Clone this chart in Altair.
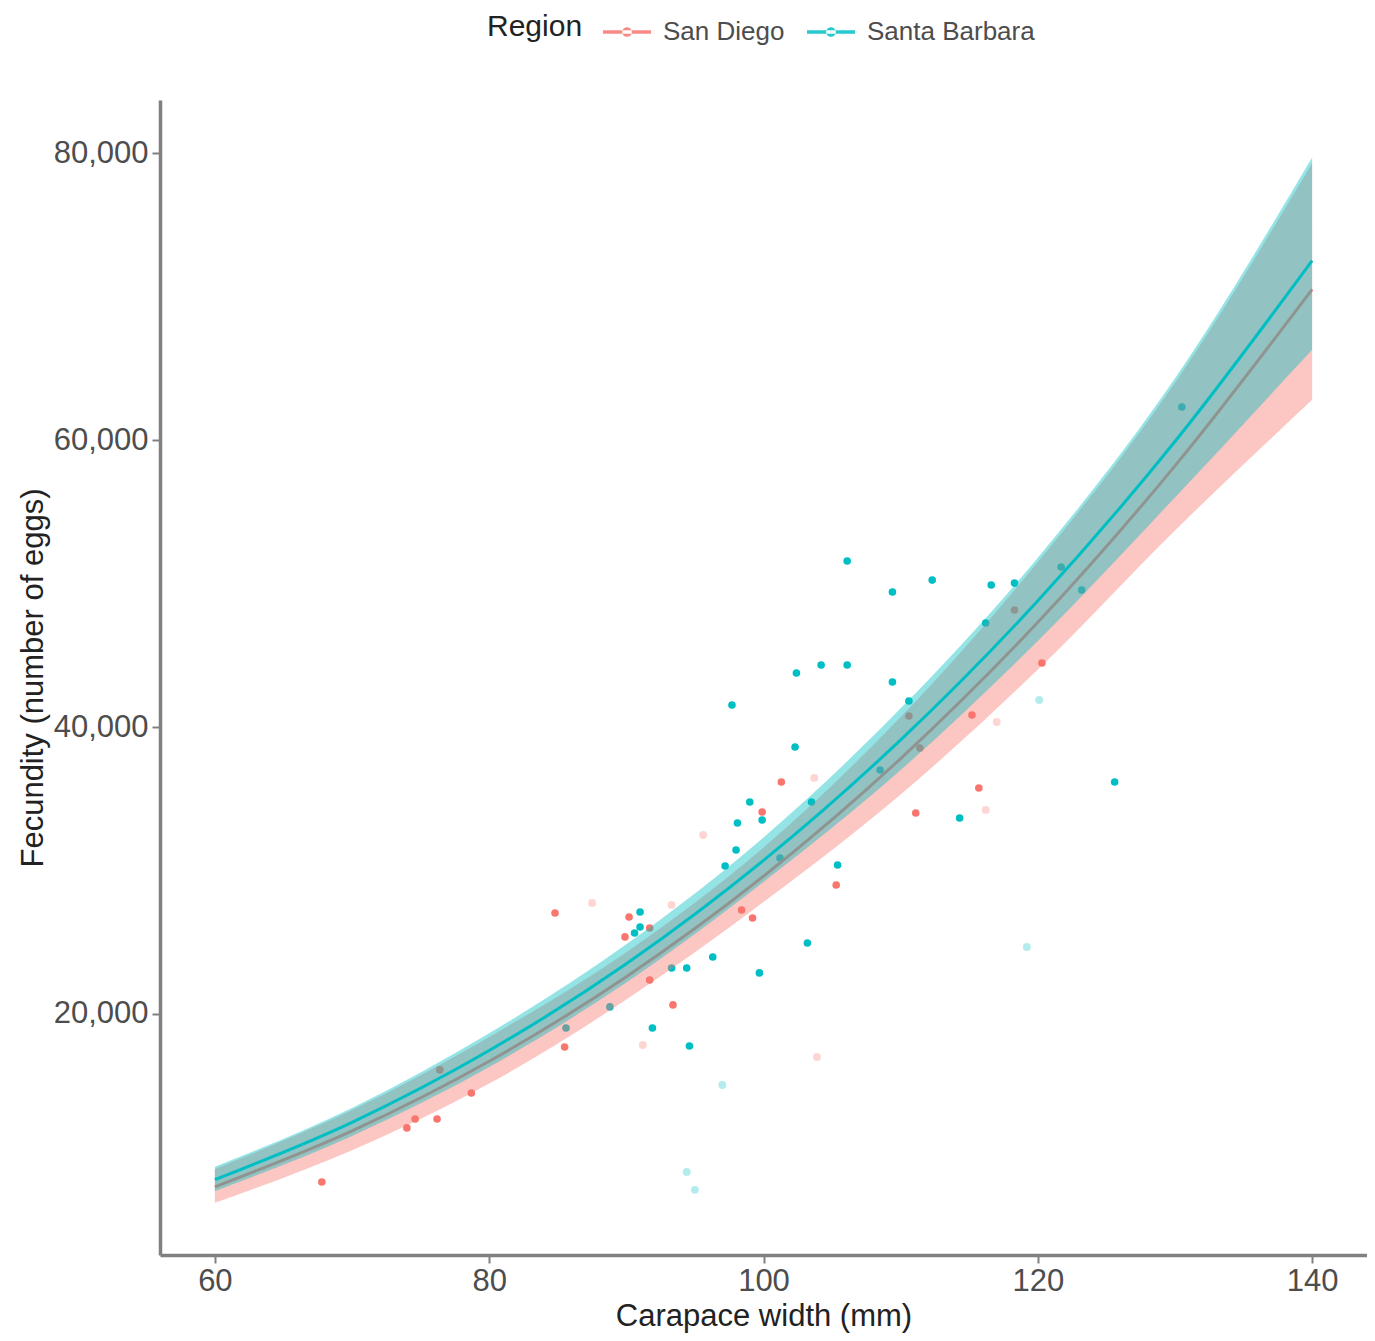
import altair as alt
import pandas as pd

regions = ["San Diego", "Santa Barbara"]
colors = ["#F8766D", "#00BFC4"]

# Fitted curves (carapace width in mm, fecundity)
cw_grid = [60, 70, 80, 90, 100, 110, 120, 130, 140]
sb_fit = [8450, 12450, 17450, 23500, 30700, 39100, 48800, 59900, 72500]
sb_lo = [7650, 11500, 16300, 22200, 29200, 37000, 46000, 56000, 66300]
sb_hi = [9350, 13450, 18650, 24850, 32300, 41300, 51800, 64300, 79700]
sd_fit = [7950, 11850, 16700, 22600, 29600, 37800, 47300, 58200, 70500]
sd_lo = [6850, 10500, 15150, 21000, 27800, 35300, 44000, 53700, 62800]
sd_hi = [9200, 13300, 18400, 24300, 31600, 40700, 51500, 64000, 79300]

# Observations: San Diego
sd_cw = [67.8, 74.0, 74.6, 76.2, 78.7, 85.5, 84.8, 90.2, 89.9, 91.7, 93.4, 99.2,
         99.9, 101.3, 105.3, 111.1, 115.7, 118.3, 120.3, 110.6, 115.2, 111.4,
         76.4, 98.4, 91.7]
sd_f = [8290, 12060, 12680, 12680, 14490, 17700, 27040, 26760, 25370, 25990, 20630, 26690,
        34080, 36170, 28990, 34010, 35750, 48150, 44460, 40770, 40840, 38540,
        16100, 27250, 22370]
sd_faint_cw = [87.5, 93.3, 95.6, 91.2, 103.7, 103.9, 116.2, 117.0]
sd_faint_f = [27740, 27600, 32470, 17840, 36450, 17000, 34220, 40350]

# Observations: Santa Barbara
sb_cw = [85.6, 88.8, 91.9, 94.6, 93.3, 94.4, 96.3, 99.7, 103.2, 91.0, 91.0, 90.6,
         98.1, 98.0, 97.2, 99.0, 99.9, 103.5, 105.4, 101.2, 102.3, 97.7, 102.4,
         104.2, 106.1, 106.1, 109.4, 109.4, 110.6, 108.5, 112.3, 116.6, 118.3,
         116.2, 121.7, 123.2, 114.3, 125.6, 130.5]
sb_f = [19020, 20490, 19020, 17770, 23200, 23200, 23970, 22860, 24950, 27110, 26060, 25640,
        33310, 31430, 30310, 34770, 33520, 34770, 30380, 30870, 38610, 41530, 43760,
        44320, 44320, 51570, 49410, 43140, 41810, 37000, 50240, 49900, 50030,
        47250, 51150, 49550, 33660, 36170, 62300]
sb_faint_cw = [97.0, 94.4, 95.0, 119.2, 120.1]
sb_faint_f = [15050, 8990, 7740, 24670, 41880]

x_ticks = [60, 80, 100, 120, 140]
y_ticks = [20000, 40000, 60000, 80000]

pts = pd.DataFrame({
    "cw": sd_cw + sb_cw,
    "f": sd_f + sb_f,
    "Region": [regions[0]] * len(sd_cw) + [regions[1]] * len(sb_cw),
})
faint = pd.DataFrame({
    "cw": sd_faint_cw + sb_faint_cw,
    "f": sd_faint_f + sb_faint_f,
    "Region": [regions[0]] * len(sd_faint_cw) + [regions[1]] * len(sb_faint_cw),
})
sd_curve = pd.DataFrame({"cw": cw_grid, "fit": sd_fit, "lo": sd_lo, "hi": sd_hi,
                         "Region": regions[0]})
sb_curve = pd.DataFrame({"cw": cw_grid, "fit": sb_fit, "lo": sb_lo, "hi": sb_hi,
                         "Region": regions[1]})

xs = alt.Scale(domain=[56, 144], nice=False, zero=False)
ys = alt.Scale(domain=[3200, 83700], nice=False, zero=False)
cs = alt.Scale(domain=regions, range=colors)

x_axis = alt.Axis(values=x_ticks, format="d", title="Carapace width (mm)")
y_axis = alt.Axis(values=y_ticks, format=",", labelExpr="format(datum.value, ',')",
                  title="Fecundity (number of eggs)")


def X():
    return alt.X("cw:Q", scale=xs, axis=x_axis)


def Y(field):
    return alt.Y(field, scale=ys, axis=y_axis)


legend = alt.Legend(
    title="Region", orient="none", legendX=327, legendY=-92, direction="horizontal",
    titleOrient="left",
    symbolType="M-1,-0.07 L1,-0.07 L1,0.07 L-1,0.07 Z M-0.2,0 A0.2,0.2 0 1,0 0.2,0 A0.2,0.2 0 1,0 -0.2,0 Z",
    symbolSize=2304, symbolStrokeWidth=0, symbolOpacity=0.85,
    labelFontSize=26, titleFontSize=30, labelColor="#4D4D4D", titleColor="#222222",
    labelFont="Liberation Sans", titleFont="Liberation Sans", titleFontWeight="normal",
    columnPadding=22, labelOffset=12, titlePadding=20, labelLimit=0,
)

points = alt.Chart(pts).mark_circle(size=58, opacity=1).encode(
    x=X(), y=Y("f:Q"),
    color=alt.Color("Region:N", scale=cs, legend=legend),
)
faint_pts = alt.Chart(faint).mark_circle(size=62, opacity=0.3).encode(
    x=X(), y=Y("f:Q"),
    color=alt.Color("Region:N", scale=cs, legend=None),
)


def ribbon(df):
    return alt.Chart(df).mark_area(opacity=0.42, interpolate="monotone").encode(
        x=X(), y=Y("lo:Q"), y2="hi:Q",
        color=alt.Color("Region:N", scale=cs, legend=None),
    )


def fitline(df):
    return alt.Chart(df).mark_line(strokeWidth=3, interpolate="monotone").encode(
        x=X(), y=Y("fit:Q"),
        color=alt.Color("Region:N", scale=cs, legend=None),
    )


chart = alt.layer(
    points, faint_pts,
    ribbon(sd_curve), fitline(sd_curve),
    ribbon(sb_curve), fitline(sb_curve),
).properties(
    width=1207, height=1155,
    padding={"left": 152, "top": 92, "right": 0, "bottom": 84},
    autosize=alt.AutoSizeParams(type="none"),
).configure_view(stroke=None).configure_axis(
    grid=False,
    domainColor="#808080", domainWidth=3.5,
    tickColor="#808080", tickWidth=2, tickSize=8,
    labelFont="Liberation Sans", labelFontSize=31, labelColor="#4D4D4D",
    labelPadding=4,
    titleFont="Liberation Sans", titleFontSize=31, titleColor="#222222",
    titleFontWeight="normal",
).configure_axisX(titlePadding=5, labelPadding=3).configure_axisY(titlePadding=4)

chart.save("out.html", embed_options={"renderer": "svg", "actions": False})
